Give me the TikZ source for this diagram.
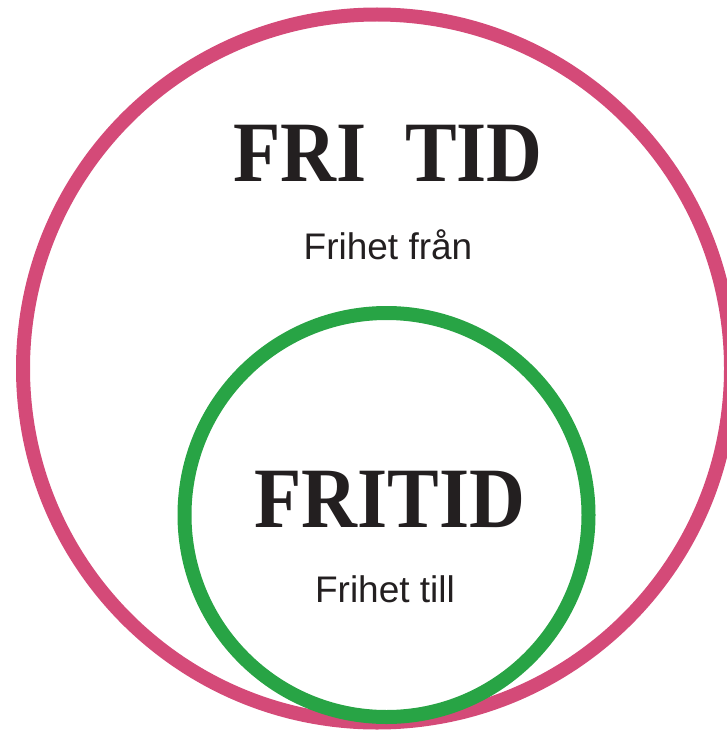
\documentclass[tikz,border=0pt]{standalone}
\usepackage{fontspec}
\setmainfont{Liberation Serif}
\newfontfamily\labelsans{Liberation Sans}
\definecolor{ringpink}{HTML}{D44A78}
\definecolor{ringgreen}{HTML}{28A445}
\definecolor{inkdark}{HTML}{231F20}
\tikzset{
  ring/.style={line width=14pt},
  titletext/.style={inner sep=0pt, anchor=base, text=inkdark, font=\bfseries\fontsize{86}{86}\selectfont, xscale=0.9},
  subtext/.style={inner sep=0pt, anchor=base, text=inkdark, font=\labelsans\fontsize{37}{37}\selectfont}
}
\begin{document}
\begin{tikzpicture}[x=1pt,y=-1pt]
\useasboundingbox (0,0) rectangle (726,730);
\draw[ring, ringpink] (377,368.5) circle[radius=354];
\draw[ring, ringgreen] (386.5,515) circle[radius=202];
\node[titletext] (fritid1) at (388,182) {FRI\ \ TID};
\node[subtext] (fran) at (388,259) {Frihet från};
\node[titletext] (fritid2) at (390,527) {FRITID};
\node[subtext] (till) at (385,602) {Frihet till};
\end{tikzpicture}
\end{document}
